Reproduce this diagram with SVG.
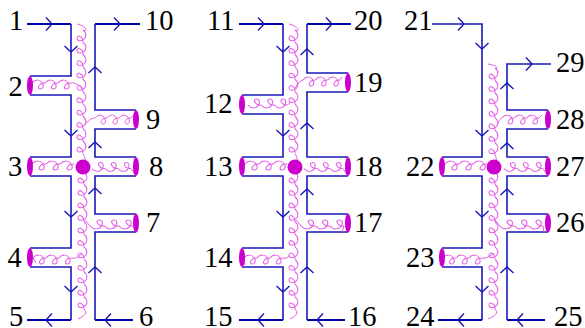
<svg xmlns="http://www.w3.org/2000/svg" width="585" height="328" viewBox="0 0 585 328">
<style>
text{font-family:"Liberation Serif","Times New Roman",serif;font-size:28.500px;fill:#000}
.q{fill:none;stroke:#1818b8;stroke-width:1.6}
.e{fill:none;stroke:#0000a8;stroke-width:2.2}
.g{fill:none;stroke:#e55ce5;stroke-width:1}
.b{fill:#cc00cc}
.a{fill:none;stroke:#1818b8;stroke-width:1.4}
</style>
<defs>
<path id="ch" class="a" d="M-6,-6.500L0,0L-6,6.500"/>
<path id="c1" class="g" d="M0,0c3,-4 8,-4 10,1c1,3 0,5 -2,5c-2,0 -3,-2 -1,-4c1,-2 3,-2 5,-2"/>
<g id="c3"><use href="#c1"/><use href="#c1" x="12"/><use href="#c1" x="24"/></g>
<g id="c7"><use href="#c3"/><use href="#c3" x="36"/><use href="#c1" x="72"/></g>
<g id="c10"><use href="#c3"/><use href="#c3" x="36"/><use href="#c3" x="72"/><use href="#c1" x="108"/></g>
<g id="c11"><use href="#c10"/><use href="#c1" x="120"/></g>
</defs>
<g id="connectors">
<!-- panel 1 -->
<path class="e" d="M27,24H71M95,24H140M27,320H71M95,320H133"/>
<path class="q" d="M71,24V76H30M30,95H71V157H30M30,176H71V248H30M30,267H71V320"/>
<path class="q" d="M95,24V110H136M136,129H95V157H136M136,176H95V214H136M136,232H95V320"/>
<use href="#ch" transform="translate(52,24)"/><use href="#ch" transform="translate(120,24)"/>
<use href="#ch" transform="translate(71,52) rotate(90)"/><use href="#ch" transform="translate(71,136) rotate(90)"/>
<use href="#ch" transform="translate(71,217) rotate(90)"/><use href="#ch" transform="translate(71,292) rotate(90)"/>
<use href="#ch" transform="translate(95,67) rotate(-90)"/><use href="#ch" transform="translate(95,142) rotate(-90)"/>
<use href="#ch" transform="translate(95,188) rotate(-90)"/><use href="#ch" transform="translate(95,267) rotate(-90)"/>
<use href="#ch" transform="translate(46,320) rotate(180)"/><use href="#ch" transform="translate(105,320) rotate(180)"/>
<path class="g" d="M77,24c5,1 9,4 9,6c0,1 -2,1 -3,0"/><use href="#c10" transform="translate(83,30) rotate(90) scale(1.03,1)"/>
<path class="g" d="M83,154c3,4 3,9 0,13"/>
<use href="#c11" transform="translate(84,172) rotate(90) scale(1.04,1)"/>
<path class="g" d="M84,309c4,4 0,7 -6,10"/>
<use href="#c3" transform="translate(32,83) scale(1.08,1)"/><path class="g" d="M71,83c4,-1 8,2 11,6"/>
<use href="#c3" transform="translate(32,164) scale(1.17,1)"/>
<use href="#c3" transform="translate(33,258) scale(1.08,1)"/><path class="g" d="M33,258l3,5M72,258c4,1 8,-2 10,-5"/>
<use href="#c3" transform="translate(95,118) scale(1,1)"/><path class="g" d="M85,125c3,-4 6,-7 10,-7M131,118l4,-5"/>
<use href="#c3" transform="translate(92,168.500) scale(1.08,-1)"/><path class="g" d="M131,168.500l4,6"/>
<use href="#c3" transform="translate(90,226) scale(1.2,-1)"/><path class="g" d="M85,220l5,6"/>
<!-- panel 2 -->
<path class="e" d="M239,24H283M307,24H351M239,320H283M307,320H345"/>
<path class="q" d="M283,24V95H242M242,114H283V157H242M242,176H283V248H242M242,267H283V320"/>
<path class="q" d="M307,24V73H348M348,92H307V157H348M348,176H307V214H348M348,232H307V320"/>
<use href="#ch" transform="translate(264,24)"/><use href="#ch" transform="translate(332,24)"/>
<use href="#ch" transform="translate(283,52) rotate(90)"/><use href="#ch" transform="translate(283,136) rotate(90)"/>
<use href="#ch" transform="translate(283,217) rotate(90)"/><use href="#ch" transform="translate(283,292) rotate(90)"/>
<use href="#ch" transform="translate(307,49) rotate(-90)"/><use href="#ch" transform="translate(307,123) rotate(-90)"/>
<use href="#ch" transform="translate(307,189) rotate(-90)"/><use href="#ch" transform="translate(307,267) rotate(-90)"/>
<use href="#ch" transform="translate(258,320) rotate(180)"/><use href="#ch" transform="translate(317,320) rotate(180)"/>
<path class="g" d="M289,24c5,1 9,4 9,6c0,1 -2,1 -3,0"/><use href="#c10" transform="translate(295,30) rotate(90) scale(1.03,1)"/>
<path class="g" d="M295,154c3,4 3,9 0,13"/>
<use href="#c11" transform="translate(295,172) rotate(90) scale(1.04,1)"/>
<path class="g" d="M295,309c4,4 1,7 -5,10"/>
<use href="#c3" transform="translate(248,105) scale(1.1,-1)"/><path class="g" d="M287.600,105c1,-1 2,-2 3,-3"/>
<use href="#c3" transform="translate(245,164) scale(1.17,1)"/>
<use href="#c3" transform="translate(244,258) scale(1.08,1)"/><path class="g" d="M244,258l1,7M283,258c3,1 5,-1 7,-3"/>
<use href="#c3" transform="translate(303,80) scale(1.03,1)"/><path class="g" d="M295,88c2,-4 5,-7 8,-8M340,80l2,-3"/>
<use href="#c3" transform="translate(304,168.500) scale(1.08,-1)"/><path class="g" d="M343,168.500l4,6"/>
<use href="#c3" transform="translate(301,226) scale(1.2,-1)"/><path class="g" d="M296,220l5,6M344,226l-2,6"/>
<!-- panel 3 -->
<path class="q" d="M432,24H482V157H442M442,176H482V248H442M442,267H482V320"/><path class="e" d="M438,320H482M507,320H545"/>
<path class="q" d="M551,64H507V110H548M548,129H507V157H548M548,176H507V214H548M548,232H507V320"/>
<use href="#ch" transform="translate(464,24)"/><use href="#ch" transform="translate(532,64)"/>
<use href="#ch" transform="translate(482,49) rotate(90)"/><use href="#ch" transform="translate(482,136) rotate(90)"/>
<use href="#ch" transform="translate(482,217) rotate(90)"/><use href="#ch" transform="translate(482,292) rotate(90)"/>
<use href="#ch" transform="translate(507,83) rotate(-90)"/><use href="#ch" transform="translate(507,143) rotate(-90)"/>
<use href="#ch" transform="translate(507,189) rotate(-90)"/><use href="#ch" transform="translate(507,267) rotate(-90)"/>
<use href="#ch" transform="translate(458,320) rotate(180)"/><use href="#ch" transform="translate(517,320) rotate(180)"/>
<path class="g" d="M488,64c5,1 9,2 9,4c0,1 -2,1 -2,0"/><use href="#c7" transform="translate(495,68) rotate(90) scale(1.04,1)"/>
<path class="g" d="M495,155c2,4 2,8 0,12"/>
<use href="#c11" transform="translate(495,172) rotate(90) scale(1.04,1)"/>
<path class="g" d="M495,309c4,4 0,7 -7,10"/>
<use href="#c3" transform="translate(445,164) scale(1.17,1)"/>
<use href="#c3" transform="translate(443,258) scale(1.08,1)"/><path class="g" d="M443,258l-1,7M482,258c4,1 8,-2 12,-5"/>
<use href="#c3" transform="translate(502,118) scale(1.03,1)"/><path class="g" d="M497,125c1,-3 3,-6 5,-7M539,118l3,-3"/>
<use href="#c3" transform="translate(504,168.500) scale(1.08,-1)"/><path class="g" d="M543,168.500l4,6"/>
<use href="#c3" transform="translate(500,226) scale(1.2,-1)"/><path class="g" d="M495,220l5,6M543,226l1,6"/>
</g>
<g id="n1"><text x="9" y="30">1</text></g>
<g id="n2"><ellipse class="b" cx="30" cy="85.500" rx="3" ry="9.500"/><text x="8.500" y="96">2</text></g>
<g id="n3"><ellipse class="b" cx="30" cy="166.500" rx="3" ry="9.500"/><text x="8" y="176">3</text></g>
<g id="n4"><ellipse class="b" cx="30" cy="257.500" rx="3" ry="9.500"/><text x="7.500" y="267">4</text></g>
<g id="n5"><text x="9" y="326">5</text></g>
<g id="n6"><text x="139" y="326">6</text></g>
<g id="n7"><ellipse class="b" cx="136" cy="223" rx="3" ry="9.500"/><text x="146" y="232">7</text></g>
<g id="n8"><ellipse class="b" cx="136" cy="166.500" rx="3" ry="9.500"/><text x="149" y="176">8</text></g>
<g id="n9"><ellipse class="b" cx="136" cy="119.500" rx="3" ry="9.500"/><text x="146" y="129">9</text></g>
<g id="n10"><text x="145" y="30">10</text></g>
<g id="v1"><circle class="b" cx="83" cy="167" r="7.500"/></g>
<g id="n11"><text x="207" y="30">11</text></g>
<g id="n12"><ellipse class="b" cx="242" cy="104.500" rx="3" ry="9.500"/><text x="204" y="113">12</text></g>
<g id="n13"><ellipse class="b" cx="242" cy="166.500" rx="3" ry="9.500"/><text x="204" y="176">13</text></g>
<g id="n14"><ellipse class="b" cx="242" cy="257.500" rx="3" ry="9.500"/><text x="204" y="267">14</text></g>
<g id="n15"><text x="204" y="326">15</text></g>
<g id="n16"><text x="348" y="326">16</text></g>
<g id="n17"><ellipse class="b" cx="348" cy="223" rx="3" ry="9.500"/><text x="354" y="232">17</text></g>
<g id="n18"><ellipse class="b" cx="348" cy="166.500" rx="3" ry="9.500"/><text x="354" y="176">18</text></g>
<g id="n19"><ellipse class="b" cx="348" cy="82.500" rx="3" ry="9.500"/><text x="354" y="92">19</text></g>
<g id="n20"><text x="354" y="30">20</text></g>
<g id="v2"><circle class="b" cx="295" cy="167" r="7.500"/></g>
<g id="n21"><text x="404" y="30">21</text></g>
<g id="n22"><ellipse class="b" cx="442" cy="166.500" rx="3" ry="9.500"/><text x="406" y="176">22</text></g>
<g id="n23"><ellipse class="b" cx="442" cy="257.500" rx="3" ry="9.500"/><text x="406" y="267">23</text></g>
<g id="n24"><text x="406" y="326">24</text></g>
<g id="n25"><text x="554" y="326">25</text></g>
<g id="n26"><ellipse class="b" cx="548" cy="223" rx="3" ry="9.500"/><text x="556" y="232">26</text></g>
<g id="n27"><ellipse class="b" cx="548" cy="166.500" rx="3" ry="9.500"/><text x="556" y="176">27</text></g>
<g id="n28"><ellipse class="b" cx="548" cy="119.500" rx="3" ry="9.500"/><text x="556" y="129">28</text></g>
<g id="n29"><text x="556" y="72">29</text></g>
<g id="v3"><circle class="b" cx="494" cy="167" r="7.500"/></g>
</svg>
